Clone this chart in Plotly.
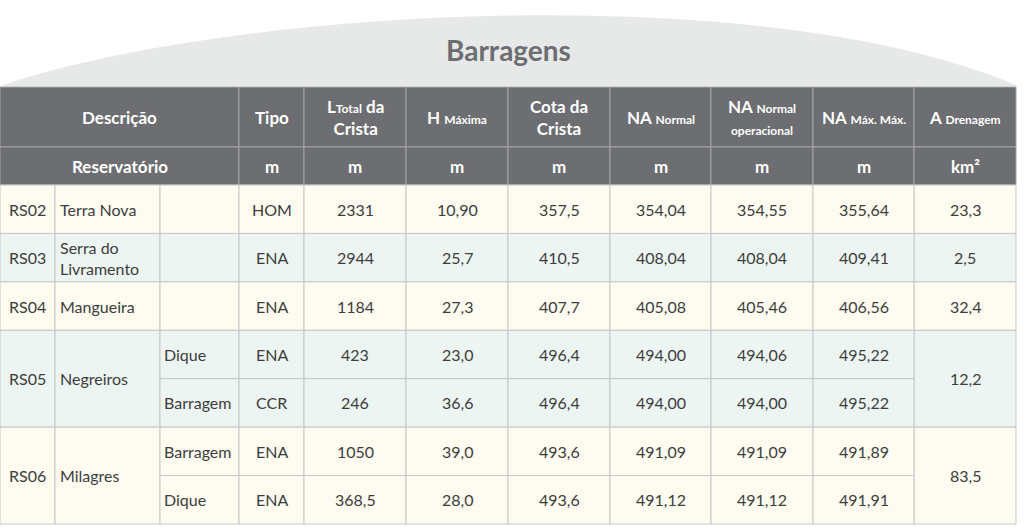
import plotly.graph_objects as go

# ---------------- data ----------------
title = "Barragens"
header_top = [
    "Descrição", "Tipo",
    "L<span style='font-size:12px'>Total</span> da<br>Crista",
    "H <span style='font-size:12px'>Máxima</span>",
    "Cota da<br>Crista",
    "NA <span style='font-size:12px'>Normal</span>",
    "NA <span style='font-size:12px'>Normal</span><br><span style='font-size:12px'>operacional</span>",
    "NA <span style='font-size:12px'>Máx. Máx.</span>",
    "A <span style='font-size:12px'>Drenagem</span>",
]
header_units = ["Reservatório", "m", "m", "m", "m", "m", "m", "m", "km²"]

codes = ["RS02", "RS03", "RS04", "RS05", "RS06"]
names = ["Terra Nova", "Serra do<br>Livramento", "Mangueira", "Negreiros", "Milagres"]
structures = [[""], [""], [""], ["Dique", "Barragem"], ["Barragem", "Dique"]]
a_drenagem = ["23,3", "2,5", "32,4", "12,2", "83,5"]

tipo = ["HOM", "ENA", "ENA", "ENA", "CCR", "ENA", "ENA"]
l_total = ["2331", "2944", "1184", "423", "246", "1050", "368,5"]
h_maxima = ["10,90", "25,7", "27,3", "23,0", "36,6", "39,0", "28,0"]
cota_crista = ["357,5", "410,5", "407,7", "496,4", "496,4", "493,6", "493,6"]
na_normal = ["354,04", "408,04", "405,08", "494,00", "494,00", "491,09", "491,12"]
na_operacional = ["354,55", "408,04", "405,46", "494,06", "494,00", "491,09", "491,12"]
na_max_max = ["355,64", "409,41", "406,56", "495,22", "495,22", "491,89", "491,91"]

# ---------------- layout / style ----------------
W, H = 1024, 527
col_edges = [0, 55, 160, 239, 304, 406, 508, 610, 711, 813, 914, 1016]
hdr1 = (87, 147)
hdr2 = (147, 185)
data_top, data_bot = 185, 524
n_rows = len(tipo)
row_h = (data_bot - data_top) / n_rows

HDR_FILL = "#6d6e71"
HDR_LINE = "#a3a4a6"
CREAM = "#fefcf1"
MINT = "#edf5f2"
GRID = "#c6c7c7"
TXT = "#3d3d3d"
FONT = "Lato"

shapes = []
ann = []


def rect(x0, x1, y0, y1, fill, line, width=1):
    shapes.append(dict(type="rect", xref="x", yref="y", x0=x0, x1=x1, y0=y0, y1=y1,
                       fillcolor=fill, line=dict(color=line, width=width), layer="below"))


def text(x, y, s, size=16, color=TXT, bold=False, anchor="center"):
    ann.append(dict(x=x, y=y, xref="x", yref="y", text=f"<b>{s}</b>" if bold else s,
                    showarrow=False, xanchor=anchor, yanchor="middle",
                    font=dict(family=FONT, size=size, color=color),
                    align="left" if anchor == "left" else "center"))


# title arc
shapes.append(dict(type="path", xref="x", yref="y",
                   path="M 0,86 C 220,10 760,-25 1018,86 Z",
                   fillcolor="#e7e9e9", line=dict(width=0), layer="below"))
text(508, 50, title, size=28, color="#6d6e71", bold=True)

# header rows
spans = [(0, 3)] + [(c, c + 1) for c in range(3, 11)]
for (a, b), t1, t2 in zip(spans, header_top, header_units):
    x0, x1 = col_edges[a], col_edges[b]
    rect(x0, x1, hdr1[0], hdr1[1], HDR_FILL, HDR_LINE)
    rect(x0, x1, hdr2[0], hdr2[1], HDR_FILL, HDR_LINE)
    xc = (x0 + x1) / 2
    text(xc, (hdr1[0] + hdr1[1]) / 2, t1, size=17, color="white", bold=True)
    text(xc, (hdr2[0] + hdr2[1]) / 2, t2, size=17, color="white", bold=True)

# data rows
per_row_cols = [tipo, l_total, h_maxima, cota_crista, na_normal, na_operacional, na_max_max]
r = 0
for i, (code, name, structs, ad) in enumerate(zip(codes, names, structures, a_drenagem)):
    fill = CREAM if i % 2 == 0 else MINT
    n = len(structs)
    y0 = data_top + r * row_h
    y1 = y0 + n * row_h
    ym = (y0 + y1) / 2
    rect(col_edges[0], col_edges[1], y0, y1, fill, GRID)
    text(col_edges[0] + 7, ym, code, anchor="left")
    rect(col_edges[1], col_edges[2], y0, y1, fill, GRID)
    text(col_edges[1] + 3, ym, name, anchor="left")
    rect(col_edges[10], col_edges[11], y0, y1, fill, GRID)
    text((col_edges[10] + col_edges[11]) / 2, ym, ad)
    for k, s in enumerate(structs):
        ry0 = data_top + (r + k) * row_h
        ry1 = ry0 + row_h
        rym = (ry0 + ry1) / 2
        rect(col_edges[2], col_edges[3], ry0, ry1, fill, GRID)
        if s:
            text(col_edges[2] + 2, rym, s, anchor="left")
        for c, vals in enumerate(per_row_cols):
            cx0, cx1 = col_edges[3 + c], col_edges[4 + c]
            rect(cx0, cx1, ry0, ry1, fill, GRID)
            text((cx0 + cx1) / 2, rym, vals[r + k])
    r += n

fig = go.Figure()
fig.add_trace(go.Scatter(x=[0, W], y=[0, H], mode="markers", marker=dict(opacity=0),
                         hoverinfo="skip", showlegend=False))
fig.update_layout(
    width=W, height=H, margin=dict(l=0, r=0, t=0, b=0),
    paper_bgcolor="white", plot_bgcolor="white",
    xaxis=dict(range=[0, W], visible=False, fixedrange=True),
    yaxis=dict(range=[H, 0], visible=False, fixedrange=True),
    shapes=shapes, annotations=ann, showlegend=False,
)
fig.write_html("out.html", config={"displayModeBar": False},
               post_script="document.body.style.margin='0';document.body.style.overflow='hidden';")
